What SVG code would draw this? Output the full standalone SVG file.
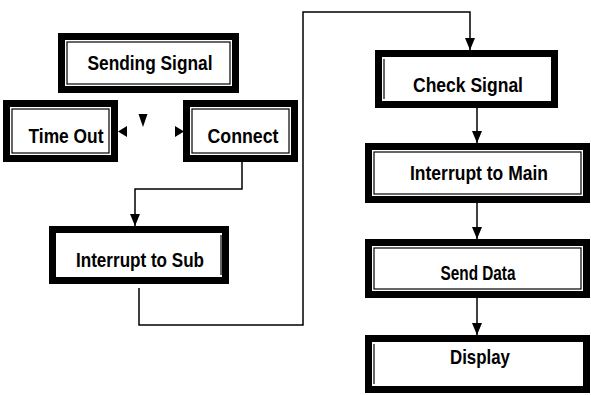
<svg xmlns="http://www.w3.org/2000/svg" width="591" height="395" viewBox="0 0 591 395">
<style>
.o{fill:#fff;stroke:#000;stroke-width:7}
.i{fill:none;stroke:#000;stroke-width:1.2}
.t{font-family:"Liberation Sans Narrow","Liberation Sans",Arial,sans-serif;font-weight:bold;font-size:21px;text-anchor:middle;fill:#000}
.c{fill:none;stroke:#000;stroke-width:1.5}
</style>
<defs>
<marker id="a" viewBox="0 0 12 10" refX="12" refY="5" markerWidth="12" markerHeight="10" markerUnits="userSpaceOnUse" orient="auto"><path d="M0,0 L12,5 L0,10 Z" fill="#000"/></marker>
</defs>
<rect width="591" height="395" fill="#fff"/>
<g id="connectors">
<polyline class="c" points="242,162 242,189 135,189 135,226" marker-end="url(#a)"/>
<polyline class="c" points="139,288 139,325 303,325 303,12 470,12 470,50" marker-end="url(#a)"/>
<line class="c" x1="477" y1="108" x2="477" y2="143" marker-end="url(#a)"/>
<line class="c" x1="477" y1="203" x2="477" y2="239" marker-end="url(#a)"/>
<line class="c" x1="477" y1="298" x2="477" y2="335" marker-end="url(#a)"/>
<path d="M138.5,114 L147.5,114 L143,127 Z" fill="#000"/>
<path d="M127,126 L127,137 L118,131.5 Z" fill="#000"/>
<path d="M175,126 L175,137 L184,131.5 Z" fill="#000"/>
</g>
<g id="sending">
<rect class="o" x="61.5" y="36.5" width="174" height="53"/>
<rect class="i" x="67" y="42" width="163" height="42"/>
<text class="t" x="150" y="70" textLength="125" lengthAdjust="spacingAndGlyphs">Sending Signal</text>
</g>
<g id="timeout">
<rect class="o" x="6.5" y="103.5" width="108" height="55"/>
<rect class="i" x="12" y="109" width="97" height="44"/>
<text class="t" x="66" y="143" textLength="75" lengthAdjust="spacingAndGlyphs">Time Out</text>
</g>
<g id="connect">
<rect class="o" x="186.5" y="103.5" width="108" height="55"/>
<rect class="i" x="192" y="109" width="97" height="44"/>
<text class="t" x="243" y="143" textLength="71" lengthAdjust="spacingAndGlyphs">Connect</text>
</g>
<g id="intsub">
<rect class="o" x="52.5" y="229.5" width="173" height="51"/>
<line class="i" x1="221" y1="235" x2="221" y2="275"/>
<text class="t" x="140" y="267" textLength="128" lengthAdjust="spacingAndGlyphs">Interrupt to Sub</text>
</g>
<g id="check">
<rect class="o" x="378.5" y="53.5" width="176" height="51"/>
<line class="i" x1="384" y1="59" x2="384" y2="99"/>
<text class="t" x="468" y="92" textLength="110" lengthAdjust="spacingAndGlyphs">Check Signal</text>
</g>
<g id="intmain">
<rect class="o" x="368.5" y="146.5" width="218" height="53"/>
<rect class="i" x="374" y="152" width="207" height="42"/>
<text class="t" x="479" y="180" textLength="138" lengthAdjust="spacingAndGlyphs">Interrupt to Main</text>
</g>
<g id="senddata">
<rect class="o" x="368.5" y="242.5" width="218" height="52"/>
<rect class="i" x="374" y="248" width="207" height="41"/>
<text class="t" x="478" y="280" textLength="75" lengthAdjust="spacingAndGlyphs">Send Data</text>
</g>
<g id="display">
<rect class="o" x="368.5" y="338.5" width="218" height="51"/>
<line class="i" x1="374" y1="344" x2="374" y2="384"/>
<text class="t" x="480" y="364" textLength="60" lengthAdjust="spacingAndGlyphs">Display</text>
</g>
</svg>
